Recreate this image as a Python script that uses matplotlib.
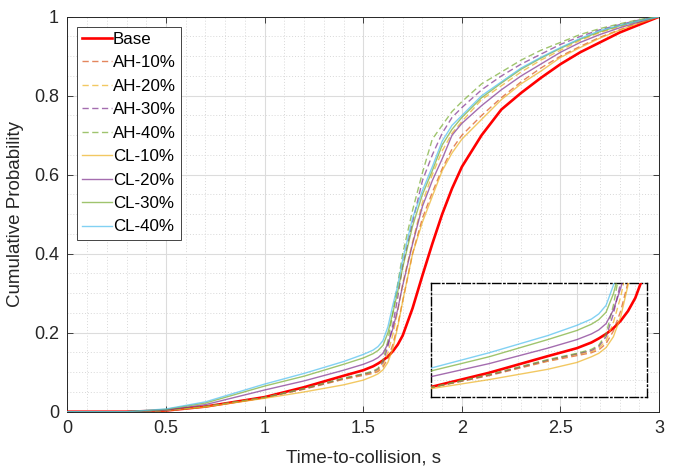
import matplotlib
matplotlib.use("Agg")
import matplotlib.pyplot as plt
from matplotlib.ticker import MultipleLocator

plt.rcParams['font.family'] = ['Liberation Sans', 'DejaVu Sans']

# ---- data ----
t = [0.0, 0.3, 0.5, 0.7, 1.0, 1.2, 1.4, 1.5, 1.55, 1.575, 1.6, 1.625, 1.65, 1.675, 1.7, 1.75, 1.8,
     1.85, 1.9, 1.95, 2.0, 2.1, 2.2, 2.3, 2.4, 2.5, 2.6, 2.7, 2.8, 2.9, 3.0]

base = [0, 0, 0.003, 0.013, 0.037, 0.062, 0.091, 0.105, 0.115, 0.122, 0.13, 0.14, 0.153, 0.17, 0.193, 0.262, 0.345,
        0.425, 0.50, 0.565, 0.62, 0.70, 0.765, 0.807, 0.845, 0.88, 0.91, 0.935, 0.96, 0.98, 1.0]
ah10 = [0, 0, 0.003, 0.013, 0.036, 0.057, 0.082, 0.092, 0.097, 0.102, 0.113, 0.135, 0.17, 0.22, 0.28, 0.40, 0.49,
        0.555, 0.615, 0.665, 0.70, 0.75, 0.795, 0.835, 0.87, 0.90, 0.925, 0.948, 0.967, 0.985, 1.0]
ah20 = [0, 0, 0.003, 0.013, 0.036, 0.058, 0.083, 0.094, 0.099, 0.105, 0.118, 0.15, 0.195, 0.255, 0.325, 0.43, 0.53,
        0.60, 0.66, 0.705, 0.735, 0.79, 0.825, 0.86, 0.89, 0.915, 0.94, 0.96, 0.975, 0.99, 1.0]
ah30 = [0, 0, 0.003, 0.013, 0.036, 0.058, 0.084, 0.095, 0.101, 0.108, 0.125, 0.165, 0.22, 0.29, 0.37, 0.48, 0.585,
        0.65, 0.705, 0.745, 0.77, 0.815, 0.85, 0.88, 0.905, 0.93, 0.95, 0.967, 0.98, 0.992, 1.0]
ah40 = [0, 0, 0.003, 0.013, 0.036, 0.059, 0.085, 0.096, 0.103, 0.11, 0.13, 0.18, 0.25, 0.325, 0.40, 0.51, 0.605,
        0.69, 0.725, 0.76, 0.785, 0.83, 0.86, 0.89, 0.915, 0.935, 0.955, 0.97, 0.982, 0.993, 1.0]
cl10 = [0, 0, 0.003, 0.012, 0.034, 0.05, 0.068, 0.08, 0.09, 0.096, 0.106, 0.125, 0.16, 0.215, 0.28, 0.40, 0.48,
        0.545, 0.61, 0.655, 0.69, 0.74, 0.79, 0.83, 0.862, 0.897, 0.922, 0.946, 0.966, 0.984, 1.0]
cl20 = [0, 0, 0.004, 0.018, 0.055, 0.078, 0.105, 0.12, 0.13, 0.137, 0.148, 0.172, 0.21, 0.26, 0.32, 0.425, 0.52,
        0.585, 0.64, 0.70, 0.73, 0.775, 0.815, 0.85, 0.88, 0.91, 0.935, 0.955, 0.972, 0.987, 1.0]
cl30 = [0, 0, 0.006, 0.022, 0.065, 0.09, 0.12, 0.136, 0.147, 0.155, 0.168, 0.20, 0.25, 0.305, 0.365, 0.47, 0.55,
        0.61, 0.675, 0.715, 0.745, 0.795, 0.832, 0.867, 0.895, 0.92, 0.943, 0.962, 0.977, 0.99, 1.0]
cl40 = [0, 0, 0.007, 0.025, 0.07, 0.097, 0.127, 0.145, 0.156, 0.165, 0.18, 0.215, 0.27, 0.32, 0.385, 0.49, 0.56,
        0.62, 0.685, 0.725, 0.75, 0.80, 0.835, 0.87, 0.897, 0.922, 0.945, 0.965, 0.978, 0.99, 1.0]

labels = ['Base', 'AH-10%', 'AH-20%', 'AH-30%', 'AH-40%', 'CL-10%', 'CL-20%', 'CL-30%', 'CL-40%']
series = [base, ah10, ah20, ah30, ah40, cl10, cl20, cl30, cl40]
colors = ['#FF0000', '#D95319', '#EDB120', '#7E2F8E', '#77AC30',
          '#EDB120', '#7E2F8E', '#77AC30', '#4DBEEE']
styles = ['-', '--', '--', '--', '--', '-', '-', '-', '-']

xticks = [0, 0.5, 1, 1.5, 2, 2.5, 3]
yticks = [0, 0.2, 0.4, 0.6, 0.8, 1]
xlabel = 'Time-to-collision, s'
ylabel = 'Cumulative Probability'


def draw(ax, lw_scale=1.0):
    lines = []
    for y, c, ls, lab in zip(series, colors, styles, labels):
        if lab == 'Base':
            ln, = ax.plot(t, y, color=c, lw=1.9 * lw_scale, ls=ls, label=lab, zorder=3)
        else:
            ln, = ax.plot(t, y, color=c, lw=1.0 * lw_scale, ls=ls, alpha=0.7, label=lab, zorder=4)
            if ls == '--':
                ln.set_dashes((4.5, 2.5))
        lines.append(ln)
    return lines


def style_grid(ax, xmaj, xmin, ymaj, ymin):
    ax.xaxis.set_major_locator(MultipleLocator(xmaj))
    ax.xaxis.set_minor_locator(MultipleLocator(xmin))
    ax.yaxis.set_major_locator(MultipleLocator(ymaj))
    ax.yaxis.set_minor_locator(MultipleLocator(ymin))
    ax.grid(True, which='major', color='#DCDCDC', lw=0.8, ls='-', zorder=0)
    ax.grid(True, which='minor', color='#D8D8D8', lw=0.7, ls=(0, (1, 2)), zorder=0)
    ax.set_axisbelow(True)


fig = plt.figure(figsize=(6.88, 4.74), dpi=100)
ax = fig.add_axes([0.098, 0.1314, 0.860, 0.8333])
lines = draw(ax)
ax.set_xlim(0, 3)
ax.set_ylim(0, 1)
style_grid(ax, 0.5, 0.1, 0.2, 0.05)
ax.set_xticks(xticks)
ax.set_xticklabels(['0', '0.5', '1', '1.5', '2', '2.5', '3'])
ax.set_yticks(yticks)
ax.set_yticklabels(['0', '0.2', '0.4', '0.6', '0.8', '1'])
ax.tick_params(which='major', direction='in', length=4, width=0.6, top=True, right=True,
               labelsize=13, colors='#262626', pad=6)
ax.tick_params(which='minor', length=0)
for s in ax.spines.values():
    s.set_color('#262626')
    s.set_linewidth(0.7)
ax.set_xlabel(xlabel, fontsize=13.5, color='#262626', labelpad=9)
ax.set_ylabel(ylabel, fontsize=13.5, color='#262626', labelpad=7)

leg = ax.legend(handles=lines, loc='upper left', bbox_to_anchor=(0.0155, 0.975),
                borderaxespad=0, fontsize=12.2, handlelength=1.8, handletextpad=0.05,
                labelspacing=0.5, borderpad=0.3, fancybox=False, framealpha=1,
                edgecolor='#262626')
leg.get_frame().set_linewidth(0.6)
for txt in leg.get_texts():
    txt.set_color('#000000')

# inset
axin = fig.add_axes([0.626, 0.163, 0.3144, 0.241])
draw(axin, lw_scale=1.0)
axin.set_xlim(1.0, 1.74)
axin.set_ylim(0.02, 0.22)
style_grid(axin, 0.5, 0.1, 0.2, 0.05)
axin.tick_params(which='both', length=0, labelbottom=False, labelleft=False)
for s in axin.spines.values():
    s.set_color('black')
    s.set_linewidth(1.0)
    s.set_linestyle((0, (6, 2, 1, 2)))

fig.savefig('out.png', dpi=100)
